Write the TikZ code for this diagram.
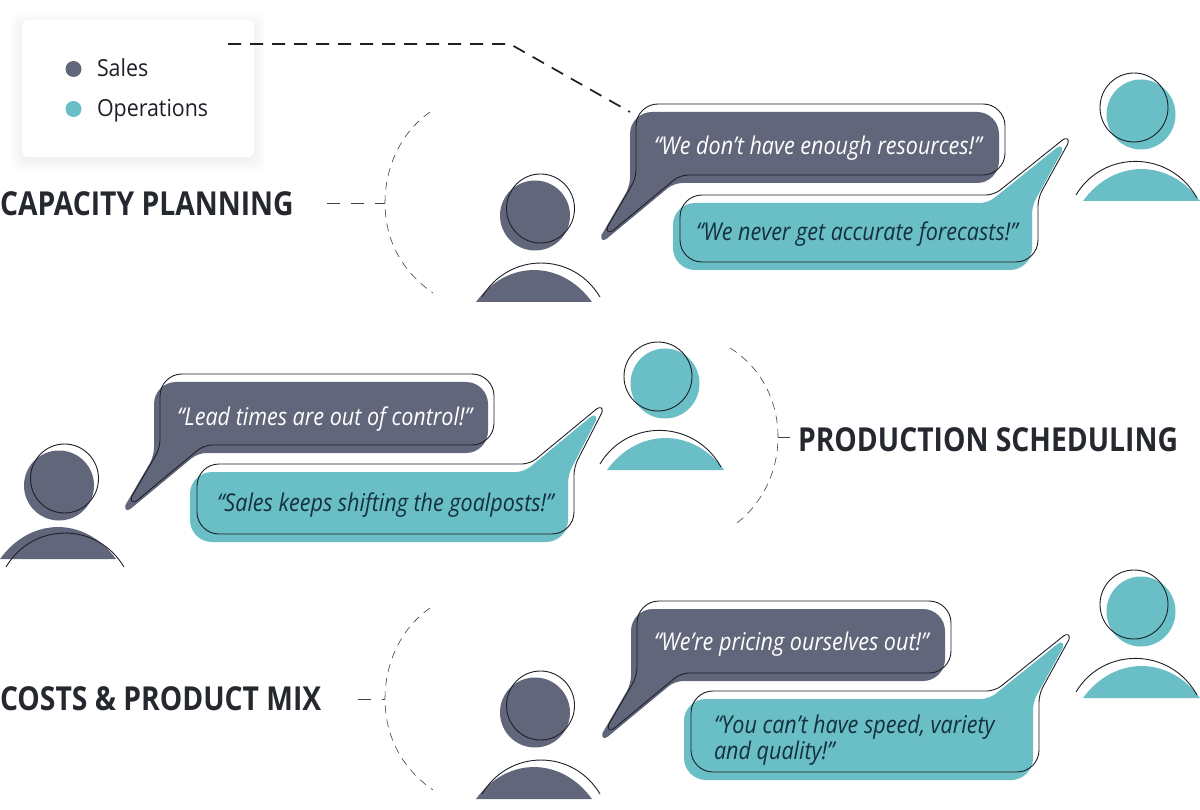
\documentclass[tikz,border=0pt]{standalone}
\usepackage{fontspec}
\setmainfont{Open Sans}
\newfontfamily\quotefont[FakeStretch=0.88,ItalicFont={Open Sans Italic}]{Open Sans}
\newfontfamily\headfont[FakeStretch=0.857]{Open Sans}
\newfontfamily\legfont[FakeStretch=0.91]{Open Sans}
\definecolor{slate}{HTML}{62667A}
\definecolor{aqua}{HTML}{69BFC5}
\definecolor{ink}{HTML}{1E2028}
\definecolor{navy}{HTML}{14303F}
\definecolor{heading}{HTML}{25282E}
\tikzset{
  every node/.style={inner sep=0pt,outer sep=0pt},
  outl/.style={draw=ink,line width=0.9pt,line join=round},
  quotew/.style={font=\fontsize{24.5}{28}\quotefont\itshape,text=white,anchor=base west},
  quoten/.style={font=\fontsize{24.5}{28}\quotefont\itshape,text=navy,anchor=base west},
  heading/.style={font=\fontsize{33}{38}\headfont\bfseries,text=heading,anchor=west},
  legtext/.style={font=\fontsize{23.5}{28}\legfont,text=ink,anchor=base west},
  thinarc/.style={draw=ink!85,line width=0.6pt,dash pattern=on 8pt off 6pt},
  stub/.style={draw=ink!85,line width=0.8pt,dash pattern=on 13pt off 11pt},
  lead/.style={draw=ink,line width=1.7pt,dash pattern=on 13pt off 9pt}
}
% dark bubble outline: L T R B
\newcommand{\DarkShape}[5][]{%
  \path[#1] ({#2+60},{#3}) [rounded corners=22pt] -- ({#4},{#3}) -- ({#4},{#5})
    [rounded corners=8pt] -- ({#2+44},{#5}) [sharp corners] -- ({#2-23},{#5+55.5})
    .. controls ({#2-26},{#5+58}) and ({#2-30},{#5+57.5}) .. ({#2-28.5},{#5+52})
    [rounded corners=8pt] -- ({#2},{#5+3}) [rounded corners=22pt] -- ({#2},{#3}) -- cycle;}
\newcommand{\DarkBubble}[4]{%
  \DarkShape[fill=slate]{#1-6}{#2+8}{#3-6}{#4+8}%
  \DarkShape[outl]{#1}{#2}{#3}{#4}}
% teal bubble: L T R B ; tip x
\newcommand{\TealShape}[6][]{%
  \path[#1] ({#2+60},{#3}) [rounded corners=8pt] -- ({#4-44},{#3}) [sharp corners] -- ({#6-5.5},{#3-55})
    .. controls ({#6-2.5},{#3-57.5}) and ({#6+1.5},{#3-57}) .. ({#6},{#3-51.5})
    [rounded corners=8pt] -- ({#4},{#3+3}) [rounded corners=22pt] -- ({#4},{#5}) -- ({#2},{#5}) -- ({#2},{#3}) -- cycle;}
\newcommand{\TealBubble}[5]{%
  \TealShape[fill=aqua]{#1-7}{#2+8}{#3-6}{#4+8}{#5-6}%
  \TealShape[outl]{#1}{#2}{#3}{#4}{#5}}
% persons: dx, dy of head and line work, dy of the filled body
\newcommand{\SalesPerson}[3]{%
  \begin{scope}[shift={(#1,#2)}]
    \fill[slate] (535,215.5) ellipse [x radius=35,y radius=35];
    \draw[outl] (540.5,208.5) ellipse [x radius=34,y radius=34.5];
  \end{scope}
  \begin{scope}[shift={(#1,#3)}]
    \fill[slate] (476,302) .. controls (507,259.4) and (561,259.4) .. (592,302) -- cycle;
  \end{scope}
  \begin{scope}[shift={(#1,#2)}]
    \draw[outl] (482,297) .. controls (509,251.7) and (573,251.7) .. (600,297);
  \end{scope}}
\newcommand{\OpsPerson}[2]{%
  \begin{scope}[shift={(#1,#2)}]
    \fill[aqua] (1141,114.5) ellipse [x radius=34.5,y radius=35];
    \fill[aqua] (1083,201) .. controls (1114,158.4) and (1169,158.4) .. (1200,201) -- cycle;
    \draw[outl] (1134,107.5) ellipse [x radius=34,y radius=34.5];
    \draw[outl] (1076,195) .. controls (1103,149.7) and (1170,149.7) .. (1197,198);
  \end{scope}}
\begin{document}
\begin{tikzpicture}[x=1pt,y=-1pt]
\useasboundingbox (0,0) rectangle (1200,810);
\fill[white] (0,0) rectangle (1200,810);

% legend
\foreach \g in {1,2,...,12}
  \fill[black,opacity=0.004,rounded corners=8pt] ({22-\g},{24-\g}) rectangle ({254+\g},{160+\g});
\node[fill=white,rounded corners=6pt,minimum width=232pt,minimum height=137pt] (legend) at (138,88.5) {};
\node[circle,fill=slate,minimum size=16pt] (dotsales) at (73.5,69) {};
\node[circle,fill=aqua,minimum size=16pt] (dotops) at (73.5,109) {};
\node[legtext] (txtsales) at (97,77) {Sales};
\node[legtext] (txtops) at (97,117) {Operations};

% leader from legend to first bubble
\coordinate (leadstart) at (228,44);
\coordinate (leadbend) at (510,44);
\coordinate (leadend) at (630,112);
\draw[lead] (leadstart) -- (leadbend) -- (leadend);

% capacity planning
\node[heading] (capacity) at (0,204) {CAPACITY PLANNING};
\coordinate (a1) at (430,112); \coordinate (a2) at (385,203); \coordinate (a3) at (433,293); \coordinate (a0) at (327,203);
\draw[thinarc] (a1) .. controls (400,133) and (385,168) .. (a2) .. controls (385,238) and (400,270) .. (a3);
\draw[stub] (a0) -- (a2);
\SalesPerson{0}{0}{0}
\OpsPerson{0}{0}
\DarkBubble{636}{104}{1005}{175}
\TealBubble{680}{195}{1038}{262}{1068}
\node[quotew] (q1) at (654,154.5) {“We don’t have enough resources!”};
\node[quoten] (q2) at (696,241) {“We never get accurate forecasts!”};

% production scheduling
\node[heading] (production) at (798,440) {PRODUCTION SCHEDULING};
\coordinate (b1) at (730,348); \coordinate (b2) at (778,437); \coordinate (b3) at (733,526); \coordinate (b0) at (790,437);
\draw[thinarc] (b1) .. controls (762,368) and (778,402) .. (b2) .. controls (778,472) and (762,505) .. (b3);
\draw[draw=ink!85,line width=0.8pt] (b2) -- (b0);
\SalesPerson{-476}{270}{257}
\OpsPerson{-476}{269}
\DarkBubble{160}{374}{494}{445}
\TealBubble{197}{464}{574}{534}{602}
\node[quotew] (q3) at (177,425) {“Lead times are out of control!”};
\node[quoten] (q4) at (217,511) {“Sales keeps shifting the goalposts!”};

% costs
\node[heading] (costs) at (0,699) {COSTS \& PRODUCT MIX};
\coordinate (c1) at (430,608); \coordinate (c2) at (385,699); \coordinate (c3) at (433,790); \coordinate (c0) at (358,699);
\draw[thinarc] (c1) .. controls (400,629) and (385,664) .. (c2) .. controls (385,734) and (400,767) .. (c3);
\draw[stub] (c0) -- (c2);
\SalesPerson{0}{497}{497}
\OpsPerson{0}{497}
\DarkBubble{637}{601}{951}{673}
\TealBubble{691}{691}{1039}{772}{1069}
\node[quotew] (q5) at (654,650.5) {“We’re pricing ourselves out!”};
\node[quoten] (q6) at (714,733.5) {“You can’t have speed, variety};
\node[quoten] (q7) at (714,759) {and quality!”};
\end{tikzpicture}
\end{document}
